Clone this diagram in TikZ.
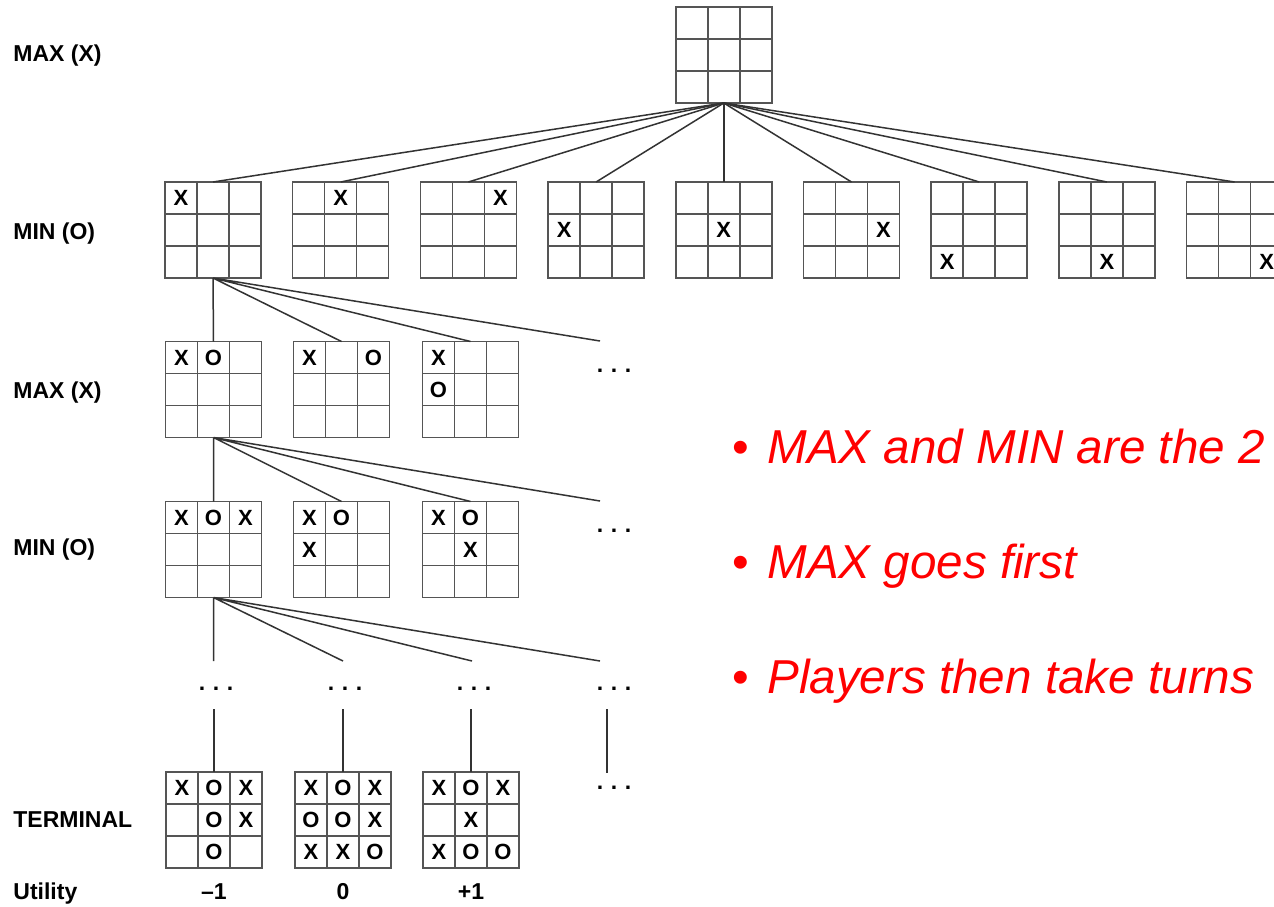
\documentclass[tikz,border=0pt]{standalone}
\usepackage{fontspec}
\setmainfont{Liberation Sans}
\usetikzlibrary{calc}
\definecolor{edgec}{HTML}{333333}
\definecolor{gridc}{HTML}{555555}
\definecolor{bulletred}{HTML}{FF0000}
\tikzset{
  board/.style={draw=gridc, line width=0.75pt, rectangle, minimum width=48pt, minimum height=48pt, inner sep=0pt, outer sep=0pt, anchor=north west},
  gridln/.style={draw=gridc, line width=0.75pt},
  edge/.style={draw=edgec, line width=0.75pt},
  cellmark/.style={font=\fontsize{11}{12}\selectfont\bfseries, inner sep=0pt},
  lvl/.style={font=\fontsize{11.5}{13}\selectfont\bfseries, anchor=base west, inner sep=0pt},
  util/.style={font=\fontsize{11.5}{13}\selectfont\bfseries, anchor=base, inner sep=0pt},
  dotsnode/.style={font=\fontsize{11.5}{13}\selectfont\bfseries, anchor=base, inner sep=0pt},
  bul/.style={font=\fontsize{23.8}{28}\selectfont, text=bulletred, anchor=base, inner sep=0pt},
  bultext/.style={font=\fontsize{23.8}{28}\selectfont\itshape, text=bulletred, anchor=base west, inner sep=0pt},
}
\newcommand\tttboard[3]{%
  \node[board] (#1) at (#2) {};
  \draw[gridln] ($(#1.north west)+(32,0)$) -- ($(#1.south west)+(32,0)$)
    ($(#1.north west)+(64,0)$) -- ($(#1.south west)+(64,0)$)
    ($(#1.north west)+(0,32)$) -- ($(#1.north east)+(0,32)$)
    ($(#1.north west)+(0,64)$) -- ($(#1.north east)+(0,64)$);
  \foreach \c/\r/\t in {#3} {\node[cellmark] at ($(#1.north west)+(16+32*\c,16+32*\r)$) {\t};}%
}
\newcommand\tdots{.\hspace{3.8pt}.\hspace{3.8pt}.}
\begin{document}
\begin{tikzpicture}[x=0.5pt,y=-0.5pt]
\fill[white] (0,0) rectangle (1274,906);
\useasboundingbox (0,0) rectangle (1274,906);

% level labels
\node[lvl] (l0) at (13,61) {MAX (X)};
\node[lvl] (l1) at (13,239) {MIN (O)};
\node[lvl] (l2) at (13,398) {MAX (X)};
\node[lvl] (l3) at (13,555) {MIN (O)};
\node[lvl] (l4) at (13,827) {TERMINAL};
\node[lvl] (l5) at (13,899) {Utility};

% root
\tttboard{r}{675.8,7}{}
% MIN row
\tttboard{m1}{165,182}{0/0/X}
\tttboard{m2}{292.7,182}{1/0/X}
\tttboard{m3}{420.4,182}{2/0/X}
\tttboard{m4}{548.1,182}{0/1/X}
\tttboard{m5}{675.8,182}{1/1/X}
\tttboard{m6}{803.5,182}{2/1/X}
\tttboard{m7}{931.2,182}{0/2/X}
\tttboard{m8}{1058.9,182}{1/2/X}
\tttboard{m9}{1186.6,182}{2/2/X}
\foreach \i in {1,...,9} \draw[edge] (r.south) -- (m\i.north);

% MAX level 2
\tttboard{a1}{165.5,341.5}{0/0/X,1/0/O}
\tttboard{a2}{293.5,341.5}{0/0/X,2/0/O}
\tttboard{a3}{422.5,341.5}{0/0/X,0/1/O}
\coordinate (c2) at (600,341);
\node[dotsnode] (d2) at (614,372.5) {\tdots};
\draw[edge] (m1.south) -- (a1.north) (m1.south) -- (a2.north) (m1.south) -- (a3.north) (m1.south) -- (c2);

% MIN level 3
\tttboard{b1}{165.5,501.5}{0/0/X,1/0/O,2/0/X}
\tttboard{b2}{293.5,501.5}{0/0/X,1/0/O,0/1/X}
\tttboard{b3}{422.5,501.5}{0/0/X,1/0/O,1/1/X}
\coordinate (c3) at (600,501);
\node[dotsnode] (d3) at (614,532) {\tdots};
\draw[edge] (a1.south) -- (b1.north) (a1.south) -- (b2.north) (a1.south) -- (b3.north) (a1.south) -- (c3);

% dots row
\coordinate (u1) at (213.5,661);
\coordinate (u2) at (343,661);
\coordinate (u3) at (472,661);
\coordinate (u4) at (600,661);
\draw[edge] (b1.south) -- (u1) (b1.south) -- (u2) (b1.south) -- (u3) (b1.south) -- (u4);
\node[dotsnode] (e1) at (216,690) {\tdots};
\node[dotsnode] (e2) at (345,690) {\tdots};
\node[dotsnode] (e3) at (474,690) {\tdots};
\node[dotsnode] (e4) at (614,690) {\tdots};

% terminal
\tttboard{t1}{166,772}{0/0/X,1/0/O,2/0/X,1/1/O,2/1/X,1/2/O}
\tttboard{t2}{295,772}{0/0/X,1/0/O,2/0/X,0/1/O,1/1/O,2/1/X,0/2/X,1/2/X,2/2/O}
\tttboard{t3}{423,772}{0/0/X,1/0/O,2/0/X,1/1/X,0/2/X,1/2/O,2/2/O}
\coordinate (v1) at (214,709);
\coordinate (v2) at (343,709);
\coordinate (v3) at (471,709);
\coordinate (v4) at (607,709);
\coordinate (w4) at (607,773);
\draw[edge] (v1) -- (t1.north) (v2) -- (t2.north) (v3) -- (t3.north) (v4) -- (w4);
\node[dotsnode] (e5) at (614,789) {\tdots};

% utilities
\node[util] (x1) at (214,899) {–1};
\node[util] (x2) at (343,899) {0};
\node[util] (x3) at (471,899) {+1};

% bullets
\node[bul] (p1) at (741,463) {•};
\node[bultext] (q1) at (767,463) {MAX and MIN are the 2};
\node[bul] (p2) at (741,578) {•};
\node[bultext] (q2) at (767,578) {MAX goes first};
\node[bul] (p3) at (741,693) {•};
\node[bultext] (q3) at (767,693) {Players then take turns};
\end{tikzpicture}
\end{document}
